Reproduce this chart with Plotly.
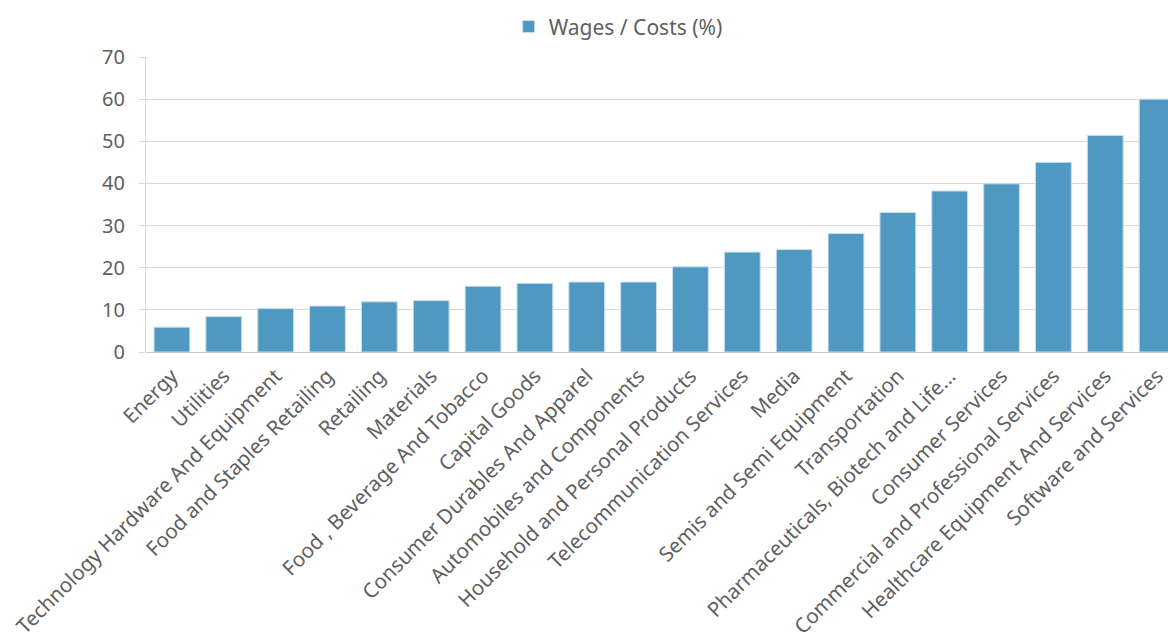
import plotly.graph_objects as go

categories = [
    "Energy", "Utilities", "Technology Hardware And Equipment",
    "Food and Staples Retailing", "Retailing", "Materials",
    "Food , Beverage And Tobacco", "Capital Goods",
    "Consumer Durables And Apparel", "Automobiles and Components",
    "Household and Personal Products", "Telecommunication Services",
    "Media", "Semis and Semi Equipment", "Transportation",
    "Pharmaceuticals, Biotech and Life...", "Consumer Services",
    "Commercial and Professional Services",
    "Healthcare Equipment And Services", "Software and Services",
]
wages_costs = [5.9, 8.4, 10.3, 10.9, 11.9, 12.2, 15.6, 16.3, 16.6, 16.6,
               20.2, 23.7, 24.3, 28.1, 33.1, 38.2, 39.9, 45.0, 51.4, 60.0]
y_ticks = [0, 10, 20, 30, 40, 50, 60, 70]

FONT = "Noto Sans"
TEXT = "#5f5f5f"
GRID = "#d9d9d9"

fig = go.Figure(
    go.Bar(
        x=categories,
        y=wages_costs,
        name="Wages / Costs (%)",
        marker=dict(color="#4f98c1", line=dict(color="#c6dfec", width=1)),
        showlegend=True,
    )
)

fig.update_layout(
    width=1168,
    height=643,
    margin=dict(l=146, r=0, t=57, b=291, autoexpand=False),
    paper_bgcolor="white",
    plot_bgcolor="white",
    bargap=0.31,
    font=dict(family=FONT, color=TEXT, size=16),
    legend=dict(
        orientation="h",
        x=0.462, xanchor="center",
        y=0.99, yanchor="top",
        yref="container",
        font=dict(size=21, color=TEXT),
        itemwidth=30,
    ),
)

fig.update_xaxes(
    type="category",
    range=[-0.5, 19.21],
    tickangle=-45,
    tickfont=dict(size=20.5, color=TEXT),
    showline=False,
    showgrid=False,
    ticks="",
    ticklabelstandoff=7,
    automargin=False,
    fixedrange=True,
)
fig.update_yaxes(
    range=[0, 70],
    tickvals=y_ticks,
    tickfont=dict(size=20, color=TEXT),
    showgrid=True,
    gridcolor=GRID,
    gridwidth=1,
    showline=True,
    linecolor=GRID,
    linewidth=1,
    ticks="outside",
    ticklen=6,
    tickcolor=GRID,
    ticklabelstandoff=10,
    automargin=False,
    zeroline=True,
    zerolinecolor="#c8c8c8",
    zerolinewidth=1,
)

fig.write_html("out.html", config={"displayModeBar": False})
